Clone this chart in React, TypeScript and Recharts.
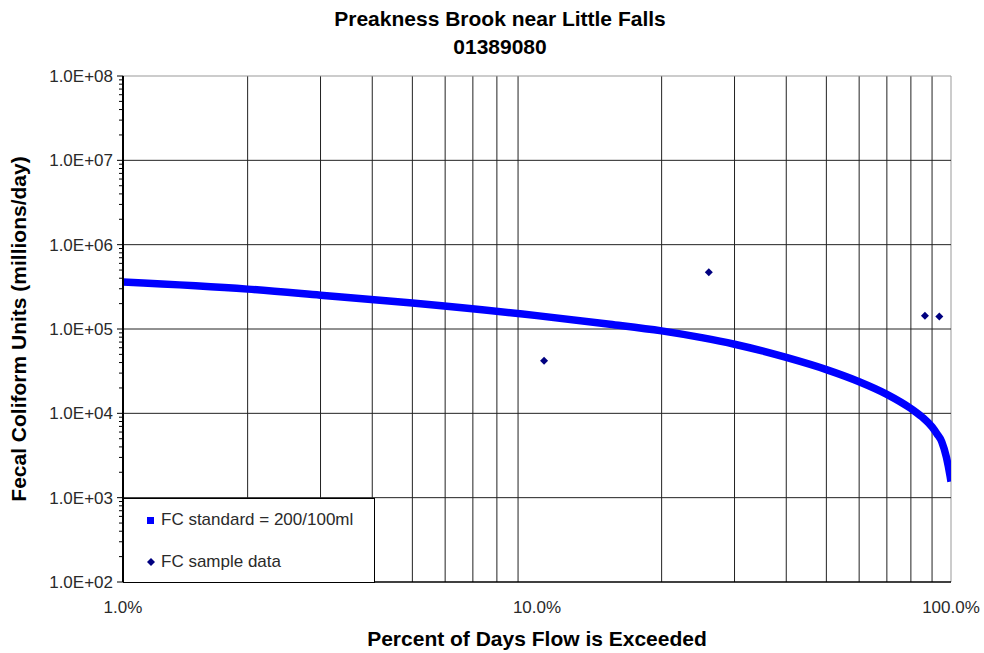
import { ComposedChart, Line, Scatter, XAxis, YAxis, ReferenceLine, Legend } from "recharts";

// flow duration curve for the FC standard (200/100ml)
const flowPct = [1, 2, 3, 5, 10, 15, 20, 25, 30, 35, 40, 50, 60, 70, 80, 85, 90, 92.5, 95, 97.5, 99.5, 100];
const fcStandard = [
  3.6e5, 2.97e5, 2.52e5, 2.03e5, 1.44e5, 1.14e5, 9.5e4, 7.9e4, 6.6e4, 5.5e4, 4.6e4,
  3.3e4, 2.37e4, 1.68e4, 1.14e4, 9.1e3, 6.9e3, 5.7e3, 4.6e3, 3.0e3, 1.8e3, 1.55e3,
];

// observed samples
const samplePct = [10.4, 26.0, 86.5, 93.7];
const sampleFc = [4.2e4, 4.7e5, 1.44e5, 1.41e5];

const xTicks = [1, 10, 100];
const xGrid = [2, 3, 4, 5, 6, 7, 8, 9, 20, 30, 40, 50, 60, 70, 80, 90];
const yDecades = [1e2, 1e3, 1e4, 1e5, 1e6, 1e7, 1e8];

const standardData = flowPct.map((pct, i) => ({ pct, fc: fcStandard[i] }));
const sampleData = samplePct.map((pct, i) => ({ pct, fc: sampleFc[i] }));

// log minor ticks 2..9 inside each decade
const yTicks: number[] = [];
yDecades.forEach((d, i) => {
  if (i === yDecades.length - 1) {
    yTicks.push(d);
    return;
  }
  for (let k = 1; k <= 9; k++) yTicks.push(d * k);
});

const FONT = "'Liberation Sans', Arial, sans-serif";

const isDecade = (v: number) => {
  const l = Math.log10(v);
  return Math.abs(l - Math.round(l)) < 1e-9;
};

const fmtExp = (v: number) => {
  const e = Math.round(Math.log10(v));
  return `${(v / Math.pow(10, e)).toFixed(1)}E+${String(e).padStart(2, "0")}`;
};

const YTick = (props: any) => {
  const { x, y, payload } = props;
  const major = isDecade(payload.value);
  return (
    <g>
      <line x1={x - (major ? 6 : 4)} x2={x} y1={y} y2={y} stroke="#000" strokeWidth={1} />
      {major && (
        <text x={x - 10} y={y} dy={6} textAnchor="end" fontSize={17} fontFamily={FONT} fill="#2a2a2a">
          {fmtExp(payload.value)}
        </text>
      )}
    </g>
  );
};

const XTick = (props: any) => {
  const { x, y, payload } = props;
  return (
    <text x={x} y={y} dy={31} textAnchor="middle" fontSize={17} fontFamily={FONT} fill="#2a2a2a">
      {payload.value.toFixed(1)}%
    </text>
  );
};

const Diamond = (props: any) => {
  const { cx, cy } = props;
  return (
    <polygon
      points={`${cx},${cy - 4} ${cx + 4},${cy} ${cx},${cy + 4} ${cx - 4},${cy}`}
      fill="#000080"
    />
  );
};

const renderLegend = () => (
  <div
    style={{
      position: "relative",
      width: 252,
      height: 85,
      boxSizing: "border-box",
      border: "1px solid #000",
      background: "#fff",
      fontFamily: FONT,
      fontSize: 17,
      color: "#2a2a2a",
    }}
  >
    <div style={{ position: "absolute", left: 23, top: 18, width: 7, height: 7, background: "#0000ff" }} />
    <div style={{ position: "absolute", left: 37, top: 11, lineHeight: "20px", whiteSpace: "nowrap" }}>
      FC standard = 200/100ml
    </div>
    <svg style={{ position: "absolute", left: 23, top: 59 }} width={8} height={8}>
      <polygon points="4,0 8,4 4,8 0,4" fill="#000080" />
    </svg>
    <div style={{ position: "absolute", left: 37, top: 53, lineHeight: "20px", whiteSpace: "nowrap" }}>
      FC sample data
    </div>
  </div>
);

export default function App() {
  return (
    <div style={{ position: "absolute", left: 0, top: 0, width: 984, height: 653, background: "#fff" }}>
      <ComposedChart
        width={984}
        height={653}
        margin={{ top: 76, right: 33, bottom: 31, left: 13 }}
        style={{ fontFamily: FONT }}
      >
        <XAxis
          dataKey="pct"
          type="number"
          scale="log"
          domain={[1, 100]}
          ticks={xTicks}
          allowDataOverflow
          height={40}
          tickLine={false}
          tickSize={0}
          tickMargin={0}
          interval={0}
          tick={<XTick />}
          axisLine={{ stroke: "#000", strokeWidth: 1.5 }}
        />
        <YAxis
          dataKey="fc"
          type="number"
          scale="log"
          domain={[100, 1e8]}
          ticks={yTicks}
          allowDataOverflow
          width={110}
          tickLine={false}
          tickSize={0}
          tickMargin={0}
          interval={0}
          tick={<YTick />}
          axisLine={{ stroke: "#000", strokeWidth: 2 }}
        />
        {xGrid.map((v) => (
          <ReferenceLine key={`gx${v}`} x={v} stroke="#222" strokeWidth={1} />
        ))}
        <ReferenceLine x={100} stroke="#999" strokeWidth={1} />
        {yDecades.slice(1, -1).map((v) => (
          <ReferenceLine key={`gy${v}`} y={v} stroke="#222" strokeWidth={1} />
        ))}
        <ReferenceLine y={1e8} stroke="#999" strokeWidth={1} />
        <Line
          data={standardData}
          dataKey="fc"
          name="FC standard = 200/100ml"
          type="monotone"
          stroke="#0000ff"
          strokeWidth={7.5}
          dot={false}
          isAnimationActive={false}
        />
        <Scatter
          data={sampleData}
          dataKey="fc"
          name="FC sample data"
          fill="#000080"
          shape={<Diamond />}
          isAnimationActive={false}
        />
        <Legend
          layout="vertical"
          align="center"
          verticalAlign="middle"
          content={renderLegend}
          wrapperStyle={{ left: 123, top: 498, width: 252, height: 85 }}
        />
        <text x={500} y={26} textAnchor="middle" fontSize={21} fontWeight="bold" fontFamily={FONT} fill="#000">
          Preakness Brook near Little Falls
        </text>
        <text x={500} y={54} textAnchor="middle" fontSize={21} fontWeight="bold" fontFamily={FONT} fill="#000">
          01389080
        </text>
        <text x={537} y={646} textAnchor="middle" fontSize={21} fontWeight="bold" fontFamily={FONT} fill="#000">
          Percent of Days Flow is Exceeded
        </text>
        <text
          x={26}
          y={329}
          transform="rotate(-90 26 329)"
          textAnchor="middle"
          fontSize={21}
          fontWeight="bold"
          fontFamily={FONT}
          fill="#000"
        >
          Fecal Coliform Units (millions/day)
        </text>
      </ComposedChart>
    </div>
  );
}
